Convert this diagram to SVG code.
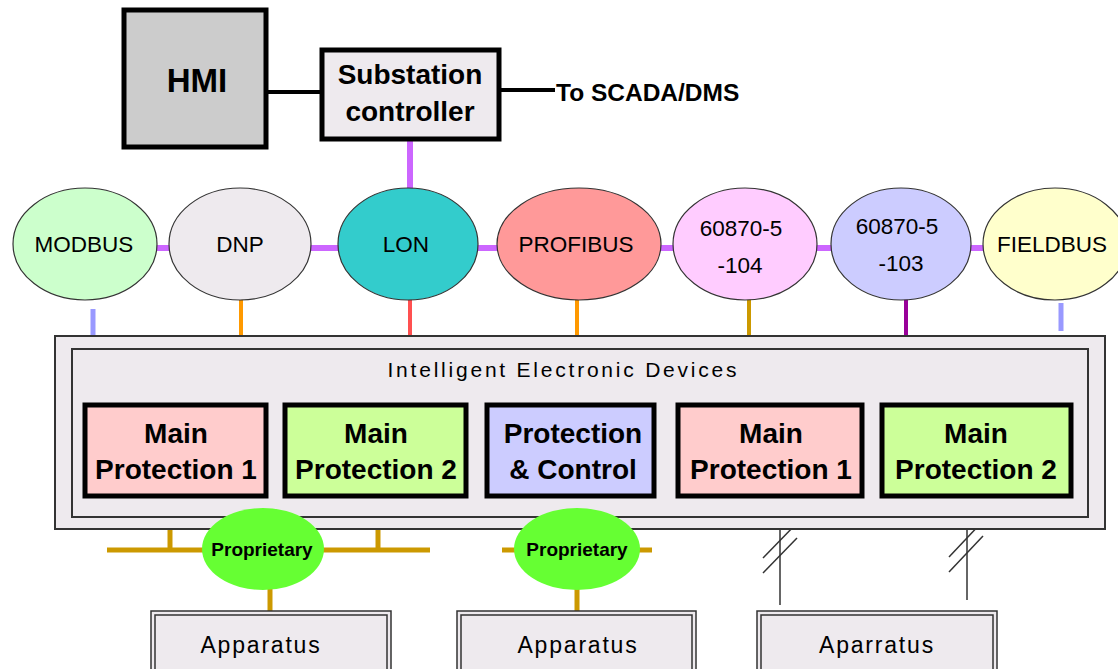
<svg xmlns="http://www.w3.org/2000/svg" width="1118" height="669" viewBox="0 0 1118 669">
<style>
text{font-family:"Liberation Sans",Arial,sans-serif;fill:#000;text-anchor:middle}
.b{font-weight:bold}
.proto{stroke:#333;stroke-width:1.2}
.dev{stroke:#000;stroke-width:5}
.pur{stroke:#cc66ff;stroke-width:6}
.gold{stroke:#cc9900;stroke-width:5;fill:none}
.thin{stroke:#333;stroke-width:1.5;fill:none}
.app{fill:#eeeaee;stroke:#333;stroke-width:1.5}
.pl{font-size:22.5px}
</style>
<rect width="1118" height="669" fill="#fff"/>

<g id="connectors">
  <line x1="267" y1="92" x2="320" y2="92" stroke="#000" stroke-width="4"/>
  <line x1="500" y1="90" x2="555" y2="90" stroke="#000" stroke-width="4"/>
  <line x1="410" y1="140" x2="410" y2="190" class="pur"/>
  <line x1="155" y1="248" x2="170" y2="248" class="pur"/>
  <line x1="310" y1="248" x2="340" y2="248" class="pur"/>
  <line x1="476" y1="248" x2="499" y2="248" class="pur"/>
  <line x1="659" y1="248" x2="675" y2="248" class="pur"/>
  <line x1="814" y1="248" x2="834" y2="248" class="pur"/>
  <line x1="968" y1="248" x2="985" y2="248" class="pur"/>
  <line x1="93" y1="309" x2="93" y2="336" stroke="#9999ff" stroke-width="5"/>
  <line x1="241" y1="298" x2="241" y2="336" stroke="#ff9900" stroke-width="4"/>
  <line x1="410" y1="298" x2="410" y2="336" stroke="#ff5050" stroke-width="4"/>
  <line x1="577" y1="298" x2="577" y2="336" stroke="#ff9900" stroke-width="4"/>
  <line x1="749" y1="298" x2="749" y2="336" stroke="#cc9900" stroke-width="4"/>
  <line x1="906" y1="298" x2="906" y2="336" stroke="#990099" stroke-width="4"/>
  <line x1="1061" y1="303" x2="1061" y2="331" stroke="#9999ff" stroke-width="5"/>
  <line x1="170" y1="497" x2="170" y2="550" class="gold"/>
  <line x1="378" y1="497" x2="378" y2="550" class="gold"/>
  <line x1="107" y1="550" x2="430" y2="550" class="gold"/>
  <line x1="270" y1="585" x2="270" y2="611" class="gold"/>
  <line x1="577" y1="497" x2="577" y2="512" class="gold"/>
  <line x1="502" y1="550" x2="652" y2="550" class="gold"/>
  <line x1="577" y1="585" x2="577" y2="611" class="gold"/>
  <line x1="780" y1="497" x2="780" y2="605" class="thin"/>
  <line x1="763" y1="558" x2="797" y2="523" class="thin"/>
  <line x1="763" y1="573" x2="797" y2="538" class="thin"/>
  <line x1="967" y1="497" x2="967" y2="600" class="thin"/>
  <line x1="949" y1="557" x2="983" y2="521" class="thin"/>
  <line x1="949" y1="572" x2="983" y2="536" class="thin"/>
</g>

<g id="hmi">
  <rect x="124" y="10" width="142" height="137" fill="#cccccc" stroke="#000" stroke-width="5"/>
  <text x="197" y="92" class="b" font-size="33">HMI</text>
</g>
<g id="substation-controller">
  <rect x="322" y="50" width="177" height="89" fill="#eeeaee" stroke="#000" stroke-width="5"/>
  <text x="410" y="84" class="b" font-size="28">Substation</text>
  <text x="410" y="121" class="b" font-size="28">controller</text>
</g>
<g id="scada-label">
  <text x="556" y="101" font-size="24.5" style="text-anchor:start" font-weight="bold">To SCADA/DMS</text>
</g>

<g id="modbus"><ellipse cx="85" cy="244" rx="72" ry="56" fill="#ccffcc" class="proto"/><text x="84" y="252" class="pl">MODBUS</text></g>
<g id="dnp"><ellipse cx="240" cy="244" rx="71" ry="56" fill="#eeeaee" class="proto"/><text x="240" y="252" class="pl">DNP</text></g>
<g id="lon"><ellipse cx="408" cy="244" rx="70" ry="56" fill="#33cccc" class="proto"/><text x="406" y="252" class="pl">LON</text></g>
<g id="profibus"><ellipse cx="579" cy="244" rx="82" ry="56" fill="#ff9999" class="proto"/><text x="576" y="252" class="pl">PROFIBUS</text></g>
<g id="iec104"><ellipse cx="745" cy="244" rx="72" ry="56" fill="#ffccff" class="proto"/><text x="741" y="236" class="pl">60870-5</text><text x="740" y="273" class="pl">-104</text></g>
<g id="iec103"><ellipse cx="901" cy="244" rx="70" ry="56" fill="#ccccff" class="proto"/><text x="897" y="234" class="pl">60870-5</text><text x="901" y="271" class="pl">-103</text></g>
<g id="fieldbus"><ellipse cx="1055" cy="244" rx="72" ry="56" fill="#ffffcc" class="proto"/><text x="1052" y="252" class="pl">FIELDBUS</text></g>

<g id="ied">
  <rect x="55" y="336" width="1050" height="193" fill="#eeeaee" stroke="#333" stroke-width="2"/>
  <rect x="72" y="349" width="1016" height="168" fill="#eeeaee" stroke="#333" stroke-width="2"/>
  <text x="562" y="377" font-size="21" textLength="349">Intelligent Electronic Devices</text>
</g>
<g id="mp1a"><rect x="85" y="405" width="181" height="91" fill="#ffcccc" class="dev"/><text x="176" y="443" class="b" font-size="28">Main</text><text x="176" y="479" class="b" font-size="28">Protection 1</text></g>
<g id="mp2a"><rect x="285" y="405" width="181" height="91" fill="#ccff99" class="dev"/><text x="376" y="443" class="b" font-size="28">Main</text><text x="376" y="479" class="b" font-size="28">Protection 2</text></g>
<g id="pc"><rect x="487" y="405" width="167" height="91" fill="#ccccff" class="dev"/><text x="573" y="443" class="b" font-size="28">Protection</text><text x="573" y="479" class="b" font-size="28">&amp; Control</text></g>
<g id="mp1b"><rect x="678" y="405" width="184" height="91" fill="#ffcccc" class="dev"/><text x="771" y="443" class="b" font-size="28">Main</text><text x="771" y="479" class="b" font-size="28">Protection 1</text></g>
<g id="mp2b"><rect x="882" y="405" width="189" height="91" fill="#ccff99" class="dev"/><text x="976" y="443" class="b" font-size="28">Main</text><text x="976" y="479" class="b" font-size="28">Protection 2</text></g>

<g id="proprietary1"><ellipse cx="263" cy="549" rx="61" ry="41" fill="#66ff33"/><text x="262" y="556" class="b" font-size="19">Proprietary</text></g>
<g id="proprietary2"><ellipse cx="577" cy="549" rx="63" ry="41" fill="#66ff33"/><text x="577" y="556" class="b" font-size="19">Proprietary</text></g>

<g id="apparatus1"><rect x="151" y="611" width="240" height="70" class="app"/><rect x="155" y="615" width="232" height="62" class="app"/><text x="261" y="653" font-size="23" letter-spacing="1.8">Apparatus</text></g>
<g id="apparatus2"><rect x="457" y="611" width="239" height="70" class="app"/><rect x="461" y="615" width="231" height="62" class="app"/><text x="578" y="653" font-size="23" letter-spacing="1.8">Apparatus</text></g>
<g id="apparatus3"><rect x="757" y="611" width="240" height="70" class="app"/><rect x="761" y="615" width="232" height="62" class="app"/><text x="877" y="653" font-size="23" letter-spacing="1.8">Aparratus</text></g>
</svg>
